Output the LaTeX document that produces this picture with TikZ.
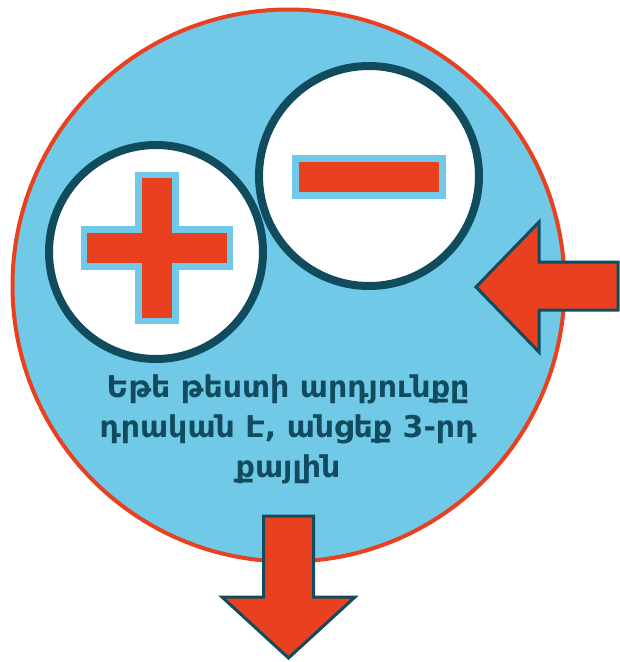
\documentclass[tikz,border=0pt]{standalone}
\usepackage{fontspec}
\usepackage{tikz}
\usetikzlibrary{positioning}
\newfontfamily\armfont{DejaVu Sans}
\definecolor{skyblue}{RGB}{112,201,230}
\definecolor{brickred}{RGB}{233,64,32}
\definecolor{darkteal}{RGB}{16,76,94}

\begin{document}
\begin{tikzpicture}[x=1pt,y=-1pt,
    ring/.style={circle, draw=darkteal, line width=8pt, fill=white, inner sep=0pt},
    arrowshape/.style={fill=brickred, draw=darkteal, line width=3pt, line join=miter}]
    \useasboundingbox (0,0) rectangle (620,662);
    \draw[brickred, line width=4pt, fill=skyblue] (288.5,285.5) circle[radius=276pt];

    \node[ring, minimum size=214pt] (plus) at (156,252) {};
    \node[ring, minimum size=220pt] (minus) at (369,176) {};

    % plus sign
    \foreach \c/\l/\w in {skyblue/76/22, brickred/70/15} {
        \fill[\c] (157-\l,248-\w) rectangle (157+\l,248+\w);
        \fill[\c] (157-\w,248-\l) rectangle (157+\w,248+\l);
    }
    % minus sign
    \foreach \c/\l/\w in {skyblue/77/22, brickred/70/15}
        \fill[\c] (369-\l,176.5-\w) rectangle (369+\l,176.5+\w);

    \node[font=\armfont\bfseries\fontsize{30}{40}\selectfont, text=darkteal,
        align=center, anchor=north, inner sep=0pt] (msg) at (288,375)
        {Եթե թեստի արդյունքը\\դրական Է, անցեք 3-րդ\\քայլին};

    \draw[arrowshape] (618,262) -- (539,262) -- (539,222) -- (476,287)
        -- (539,352) -- (539,310) -- (618,310) -- cycle;
    \draw[arrowshape] (263.5,516) -- (313.5,516) -- (313.5,597) -- (355,597)
        -- (288.5,658) -- (222,597) -- (263.5,597) -- cycle;
\end{tikzpicture}
\end{document}
